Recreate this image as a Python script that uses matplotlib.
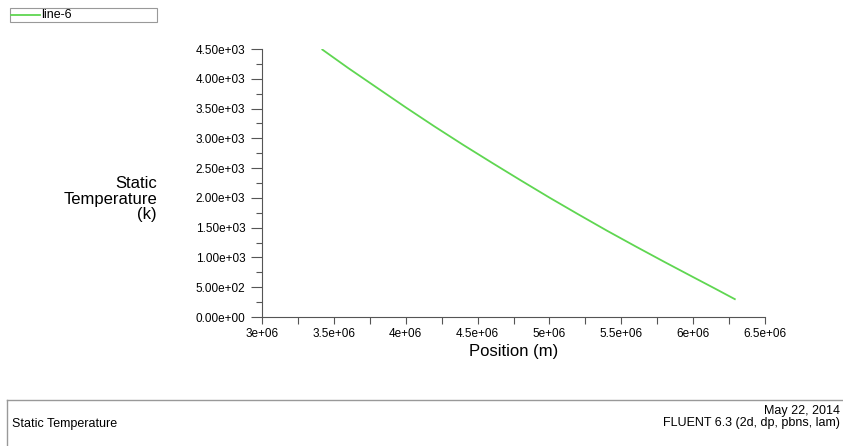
import matplotlib
matplotlib.use("Agg")
import matplotlib.pyplot as plt
from matplotlib.lines import Line2D
from matplotlib.patches import Rectangle
from matplotlib.ticker import MultipleLocator, FuncFormatter
from matplotlib import font_manager

plt.rcParams['font.family'] = ['Liberation Sans', 'DejaVu Sans']

# data
position = [3.42e6, 3.6e6, 3.8e6, 4.0e6, 4.2e6, 4.4e6, 4.6e6, 4.8e6,
            5.0e6, 5.2e6, 5.4e6, 5.6e6, 5.8e6, 6.0e6, 6.15e6, 6.29e6]
temperature = [4490, 4180, 3850, 3520, 3200, 2890, 2590, 2295,
               2005, 1725, 1450, 1185, 925, 670, 480, 300]
series_name = "line-6"
green = '#5fd651'

# narrow font for the title block, if it is there
names = {f.name for f in font_manager.fontManager.ttflist}
narrow = ['Liberation Sans Narrow'] if 'Liberation Sans Narrow' in names else []
narrow = narrow + ['Liberation Sans', 'DejaVu Sans']
block_size = 10.5 if len(narrow) == 3 else 9

W, H = 843, 446
fig = plt.figure(figsize=(W / 100, H / 100), dpi=100)

def fx(px):
    return px / W

def fy(py):
    return 1 - py / H

ax = fig.add_axes([fx(262), fy(317), fx(765) - fx(262), fy(49) - fy(317)])
ax.plot(position, temperature, color=green, lw=1.3)

ax.set_xlim(3e6, 6.5e6)
ax.set_ylim(0, 4500)
for s in ['top', 'right']:
    ax.spines[s].set_visible(False)
for s in ['left', 'bottom']:
    ax.spines[s].set_color('#555555')
    ax.spines[s].set_linewidth(0.8)

ax.xaxis.set_major_locator(MultipleLocator(0.5e6))
ax.xaxis.set_minor_locator(MultipleLocator(0.25e6))
ax.yaxis.set_major_locator(MultipleLocator(500))
ax.yaxis.set_minor_locator(MultipleLocator(250))

ax.xaxis.set_major_formatter(FuncFormatter(lambda v, p: '%ge+06' % (v / 1e6)))
ax.yaxis.set_major_formatter(FuncFormatter(lambda v, p: '%.2e' % v))

ax.tick_params(axis='y', which='major', length=8, width=0.8, color='#555555',
               labelsize=8.5, pad=4)
ax.tick_params(axis='y', which='minor', length=4, width=0.8, color='#555555')
ax.tick_params(axis='x', which='both', length=5, width=0.8, color='#555555',
               labelsize=8.5, pad=3)

ax.set_xlabel("Position (m)", fontsize=12, labelpad=3)
fig.text(fx(157), fy(199), "Static\nTemperature\n(k)", fontsize=12,
         ha='right', va='center', multialignment='right', linespacing=1.08)

# legend box at the top left
fig.patches.append(Rectangle((fx(10), fy(22)), fx(147), fy(8) - fy(22),
                             transform=fig.transFigure, fill=False,
                             edgecolor='#999999', lw=0.8))
fig.lines.append(Line2D([fx(11), fx(40)], [fy(15), fy(15)],
                        transform=fig.transFigure, color=green, lw=1.3))
fig.text(fx(41), fy(15), series_name, fontsize=9, va='center', ha='left')

# title block at the bottom
fig.lines.append(Line2D([fx(7), fx(843)], [fy(400), fy(400)],
                        transform=fig.transFigure, color='#999999', lw=1))
fig.lines.append(Line2D([fx(7), fx(7)], [fy(400), fy(446)],
                        transform=fig.transFigure, color='#999999', lw=1))
fig.text(fx(12), fy(424), "Static Temperature", fontsize=block_size,
         family=narrow, ha='left', va='center')
fig.text(fx(840), fy(417), "May 22, 2014\nFLUENT 6.3 (2d, dp, pbns, lam)",
         fontsize=block_size, family=narrow, ha='right', va='center',
         multialignment='right', linespacing=1.0)

fig.savefig("out.png", dpi=100)
